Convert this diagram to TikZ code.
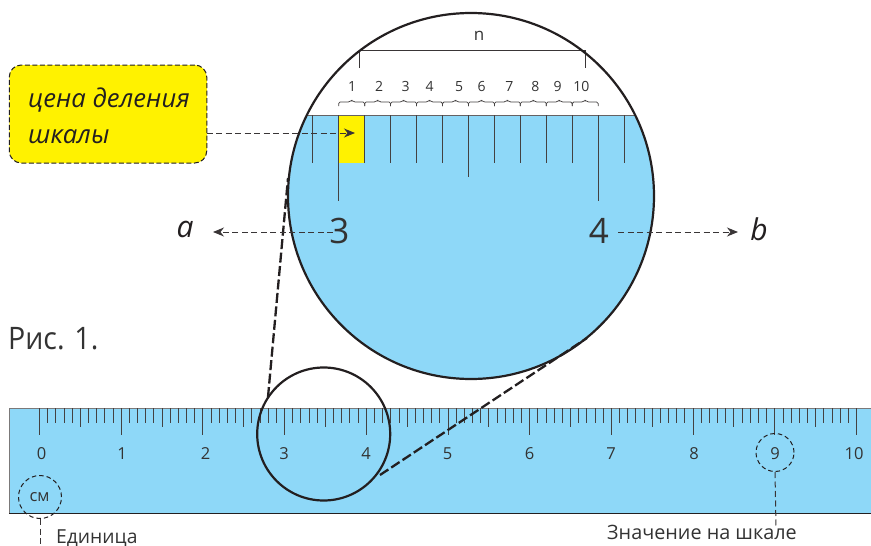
\documentclass[tikz,border=0pt]{standalone}
\usepackage{fontspec}
\setmainfont{Open Sans}
\usetikzlibrary{arrows.meta}
\definecolor{skyb}{HTML}{8ED8F8}
\definecolor{ylw}{HTML}{FFF200}
\definecolor{ink}{HTML}{231F20}
\definecolor{txt}{HTML}{333333}
\tikzset{
  thinline/.style={draw=ink,line width=1pt},
  tick/.style={draw=ink!85,line width=0.95pt},
  ring/.style={circle,draw=ink,line width=2.2pt,inner sep=0pt},
  dashring/.style={circle,draw=ink,line width=1pt,inner sep=0pt,dash pattern=on 4.5pt off 3pt},
  dashline/.style={draw=ink!90,line width=1pt,dash pattern=on 6pt off 3.5pt},
  zoomline/.style={draw=ink,line width=2.3pt,dash pattern=on 10pt off 3.5pt},
  arrowline/.style={dashline,-{Stealth[length=11pt,width=9pt,inset=3.5pt]}},
  lab/.style={text=txt,inner sep=0pt,font=\fontsize{16.5}{16.5}\selectfont},
  small/.style={text=txt,inner sep=0pt,font=\fontsize{14}{14}\selectfont},
}
\begin{document}
\begin{tikzpicture}[x=1pt,y=-1pt]
\useasboundingbox (0,0) rectangle (871,546);
% ruler
\fill[skyb] (9,408) rectangle (871,513);
\draw[draw=ink!60,line width=0.8pt] (871,408) -- (9,408) -- (9,513);
\draw[thinline] (9,513) -- (871,513);
\foreach \i in {0,...,100}{
  \pgfmathsetmacro{\xx}{39.5+8.17*\i}
  \pgfmathtruncatemacro{\mten}{mod(\i,10)}
  \pgfmathtruncatemacro{\mfive}{mod(\i,5)}
  \pgfmathsetmacro{\yy}{\mten==0?435:(\mfive==0?427:422.5)}
  \draw[tick] (\xx,408) -- (\xx,\yy);
}
\foreach \n/\x in {0/41.5,1/122,2/205.5,3/284,4/366,5/447.5,6/529.7,7/611,8/694,9/775,10/854}
  \node[lab] (r\n) at (\x,454) {\n};
% big circle
\begin{scope}
\clip (471,196) circle (183);
\fill[skyb] (280,115) rectangle (660,385);
\fill[ylw] (338.7,115) rectangle (364.4,163);
\draw[draw=ink!70,line width=0.8pt] (280,115) -- (660,115);
\end{scope}
\foreach \i in {0,...,12}{
  \pgfmathsetmacro{\xx}{312.7+25.95*\i}
  \pgfmathsetmacro{\yy}{(\i==1||\i==11)?201:(\i==6?177:163)}
  \draw[tick] (\xx,115) -- (\xx,\yy);
}
% braces
\foreach \i in {0,...,9}{
  \pgfmathsetmacro{\xa}{338.7+25.95*\i}
  \pgfmathsetmacro{\xb}{\xa+25.95}
  \pgfmathsetmacro{\xm}{\xa+12.97}
  \draw[draw=ink!85,line width=0.75pt,rounded corners=1.5pt] (\xa,106) -- (\xa,102) -- (\xm-2,102) -- (\xm,100) -- (\xm+2,102) -- (\xb,102) -- (\xb,106);
}
\foreach \n/\x in {1/352,2/379,3/405.7,4/429.7,5/459,6/481.7,7/509.3,8/535.3,9/557.7,10/581.3}
  \node[small] (d\n) at (\x,86.5) {\n};
% n bracket
\coordinate (nl) at (359,50);
\coordinate (nr) at (585.7,50);
\coordinate (nlb) at (359,68);
\coordinate (nrb) at (585.7,68);
\draw[draw=ink!90,line width=1pt] (nlb) -- (nl) -- (nr) -- (nrb);
\node[text=txt,inner sep=0pt,font=\fontsize{17}{17}\selectfont] (nn) at (479,36) {n};
\node[ring,minimum size=366pt,fill=none] (bigc) at (471,196) {};
% small circle
\node[ring,minimum size=133pt] (smallc) at (323.7,434) {};
% zoom lines
\coordinate (z1a) at (268,397);
\coordinate (z1b) at (288,178);
\coordinate (z2a) at (380,475);
\coordinate (z2b) at (587,338);
\draw[zoomline] (z1a) -- (z1b);
\draw[zoomline] (z2a) -- (z2b);
% big digits
\node[text=txt,inner sep=0pt,font=\fontsize{35}{35}\selectfont] (three) at (339.5,231) {3};
\node[text=txt,inner sep=0pt,font=\fontsize{35}{35}\selectfont] (four) at (599,231) {4};
\node[text=ink,inner sep=0pt,font=\fontsize{30}{30}\selectfont\itshape] (a) at (185,229) {a};
\node[text=ink,inner sep=0pt,font=\fontsize{30}{30}\selectfont\itshape] (b) at (759,229) {b};
\coordinate (aend) at (213,232);
\coordinate (bend) at (738,232);
\coordinate (astart) at (333,232);
\coordinate (bstart) at (618,232);
\draw[arrowline] (astart) -- (aend);
\draw[arrowline] (bstart) -- (bend);
% note box
\node[draw=ink,fill=ylw,line width=1pt,dash pattern=on 5pt off 2.5pt,rounded corners=12pt,minimum width=197.5pt,minimum height=98pt,inner sep=0pt] (note) at (108,114) {};
\node[anchor=base west,text=ink,inner sep=0pt,font=\fontsize{25.6}{25.6}\selectfont\itshape] (n1) at (28,107) {цена деления};
\node[anchor=base west,text=ink,inner sep=0pt,font=\fontsize{25.6}{25.6}\selectfont\itshape] (n2) at (28,143) {шкалы};
\coordinate (noteout) at (206.7,133);
\coordinate (cell) at (355,133);
\draw[arrowline] (noteout) -- (cell);
% title
\node[anchor=base west,text=txt,inner sep=0pt,font=\fontsize{31}{31}\selectfont\addfontfeature{FakeStretch=0.92}] (fig) at (8,349) {Рис. 1.};
% cm
\node[dashring,minimum size=43pt] (cmc) at (40,497) {};
\node[lab,font=\fontsize{16.5}{16.5}\selectfont] (cm) at (39.5,497) {см};
\coordinate (cmend) at (40,546);
\draw[dashline] (cmc.south) -- (cmend);
\node[anchor=base west,text=txt,inner sep=0pt,font=\fontsize{19.3}{19.3}\selectfont] (unit) at (56,543) {Единица};
% 9
\node[dashring,minimum size=38pt] (nine) at (775,452.5) {};
\coordinate (nineend) at (776,527);
\draw[dashline] (nine.south) -- (nineend);
\node[anchor=base west,text=txt,inner sep=0pt,font=\fontsize{19.8}{19.8}\selectfont] (val) at (607,539) {Значение на шкале};
\end{tikzpicture}
\end{document}
